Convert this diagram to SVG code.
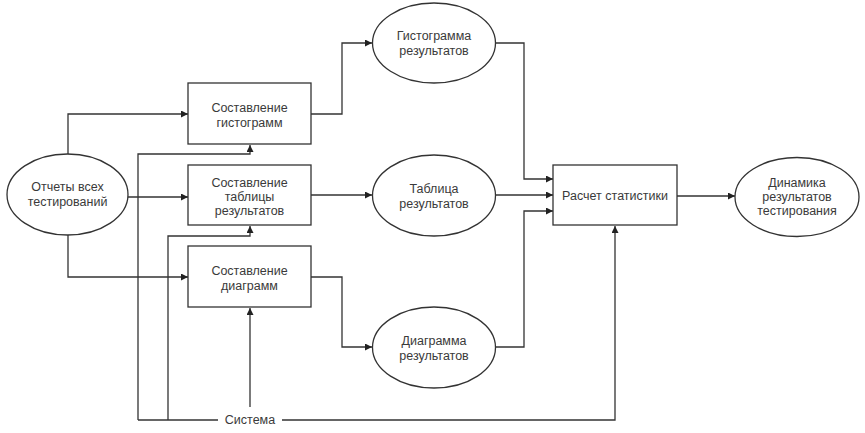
<svg xmlns="http://www.w3.org/2000/svg" width="865" height="433" viewBox="0 0 865 433">
<defs>
<marker id="arr" viewBox="0 0 10 10" refX="10" refY="5" markerWidth="7" markerHeight="7" markerUnits="userSpaceOnUse" orient="auto">
<path d="M0,0 L10,5 L0,10 z" fill="#222"/>
</marker>
</defs>
<style>
.n{fill:#fff;stroke:#333;stroke-width:1.3}
.t{font-family:"Liberation Sans",Arial,sans-serif;font-size:12.5px;fill:#3a3a3a;text-anchor:middle;dominant-baseline:central}
.c{fill:none;stroke:#333;stroke-width:1.3}
.a{marker-end:url(#arr)}
</style>
<rect width="865" height="433" fill="#fff"/>
<g id="connectors">
<path class="c a" d="M68,155 V114 H188"/>
<path class="c a" d="M128,197 H188"/>
<path class="c a" d="M68,235 V277 H188"/>
<path class="c a" d="M138,420 V154 H250 V145"/>
<path class="c a" d="M168,420 V236 H250 V226"/>
<path class="c a" d="M250,407 V308"/>
<path class="c" d="M138,420 H218"/>
<path class="c a" d="M282,420 H615 V226"/>
<path class="c a" d="M311,114 H342 V43 H372"/>
<path class="c a" d="M311,195 H372"/>
<path class="c a" d="M311,277 H342 V347 H372"/>
<path class="c a" d="M495,43 H524 V179 H553"/>
<path class="c a" d="M495,195 H553"/>
<path class="c a" d="M495,347 H524 V211 H553"/>
<path class="c a" d="M677,196 H735"/>
</g>
<g id="otchety">
<ellipse class="n" cx="67.5" cy="194.5" rx="60.5" ry="40.5"/>
<text class="t" x="67.5" y="187">Отчеты всех</text>
<text class="t" x="67.5" y="202">тестирований</text>
</g>
<g id="sost-gist">
<rect class="n" x="188" y="83" width="123" height="61"/>
<text class="t" x="249.5" y="108">Составление</text>
<text class="t" x="249.5" y="123">гистограмм</text>
</g>
<g id="sost-tabl">
<rect class="n" x="188" y="165" width="123" height="60"/>
<text class="t" x="249.5" y="183">Составление</text>
<text class="t" x="249.5" y="197">таблицы</text>
<text class="t" x="249.5" y="211">результатов</text>
</g>
<g id="sost-diag">
<rect class="n" x="188" y="246" width="123" height="61"/>
<text class="t" x="249.5" y="271">Составление</text>
<text class="t" x="249.5" y="286">диаграмм</text>
</g>
<g id="gist-res">
<ellipse class="n" cx="434" cy="43" rx="61.5" ry="40"/>
<text class="t" x="434" y="36">Гистограмма</text>
<text class="t" x="434" y="51">результатов</text>
</g>
<g id="tabl-res">
<ellipse class="n" cx="434" cy="195.5" rx="61.5" ry="40.5"/>
<text class="t" x="434" y="189">Таблица</text>
<text class="t" x="434" y="204">результатов</text>
</g>
<g id="diag-res">
<ellipse class="n" cx="434" cy="347.5" rx="61.5" ry="40.5"/>
<text class="t" x="434" y="341">Диаграмма</text>
<text class="t" x="434" y="356">результатов</text>
</g>
<g id="raschet">
<rect class="n" x="553" y="165" width="124" height="60"/>
<text class="t" x="615" y="196">Расчет статистики</text>
</g>
<g id="dinamika">
<ellipse class="n" cx="797" cy="197" rx="62" ry="39.5"/>
<text class="t" x="797" y="183">Динамика</text>
<text class="t" x="797" y="197">результатов</text>
<text class="t" x="797" y="211">тестирования</text>
</g>
<g id="sistema">
<text class="t" x="250" y="420">Система</text>
</g>
</svg>
